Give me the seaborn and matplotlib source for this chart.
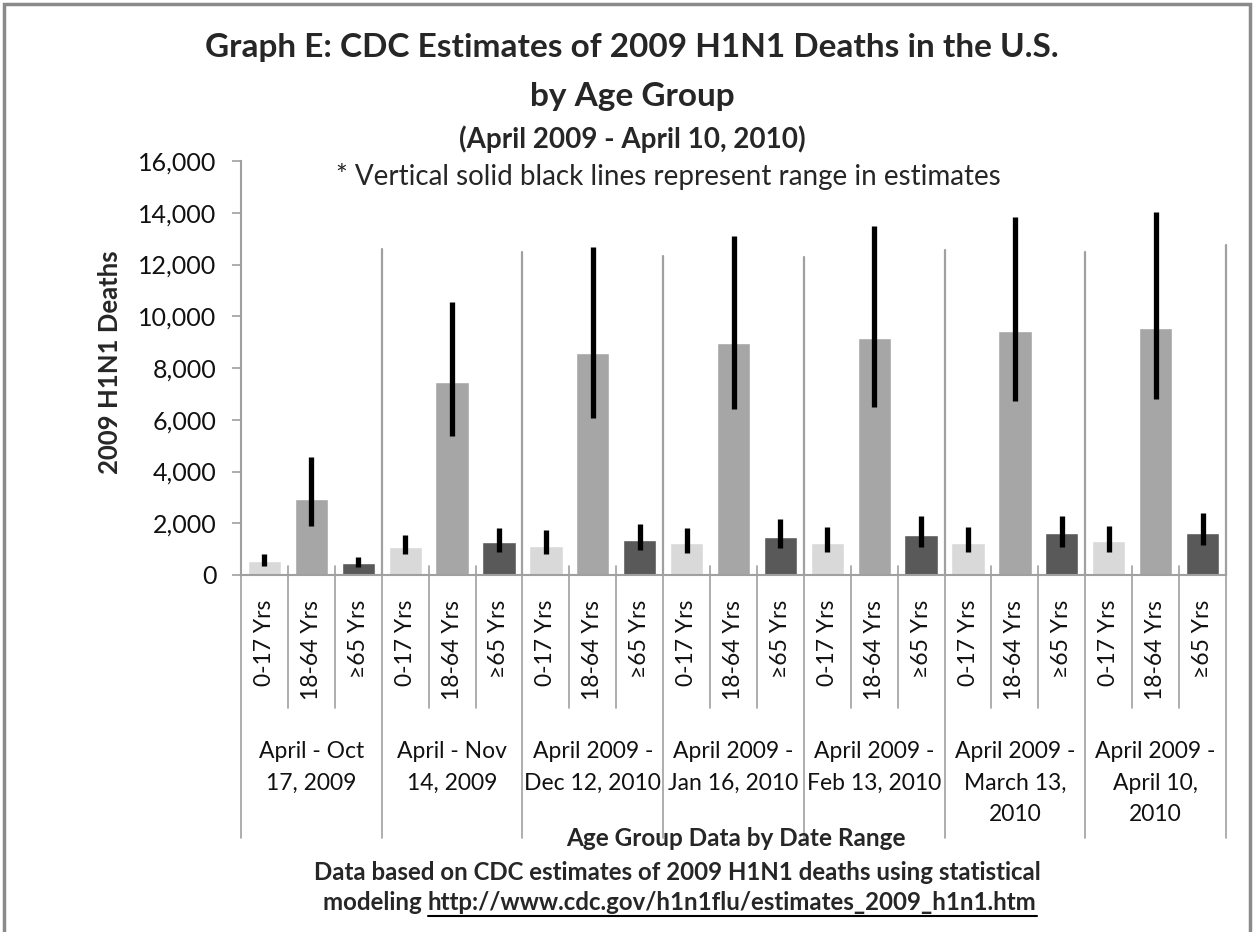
import matplotlib.pyplot as plt
import matplotlib.patches as mpatches
import pandas as pd
import seaborn as sns

periods = [
    "April - Oct\n17, 2009",
    "April - Nov\n14, 2009",
    "April 2009 -\nDec 12, 2010",
    "April 2009 -\nJan 16, 2010",
    "April 2009 -\nFeb 13, 2010",
    "April 2009 -\nMarch 13,\n2010",
    "April 2009 -\nApril 10,\n2010",
]
ages = ["0-17 Yrs", "18-64 Yrs", "≥65 Yrs"]

deaths_0_17 = [540, 1090, 1130, 1250, 1250, 1250, 1310]
low_0_17 = [330, 810, 810, 860, 900, 900, 900]
high_0_17 = [800, 1540, 1740, 1800, 1840, 1840, 1890]

deaths_18_64 = [2930, 7440, 8580, 8970, 9160, 9420, 9560]
low_18_64 = [1900, 5370, 6050, 6400, 6500, 6720, 6790]
high_18_64 = [4570, 10550, 12670, 13120, 13470, 13830, 14020]

deaths_65 = [450, 1290, 1350, 1480, 1540, 1610, 1610]
low_65 = [320, 900, 970, 1050, 1090, 1090, 1160]
high_65 = [710, 1800, 1990, 2170, 2290, 2290, 2380]

# heights of the grey separators between date ranges (left edge .. right edge)
separator_tops = [0, 12580, 12480, 12330, 12290, 12550, 12480, 12770]

colors = ["#d9d9d9", "#a6a6a6", "#595959"]
GREY = "#a0a0a0"

sns.set_theme(style="white")
plt.rcParams["font.family"] = ["Lato", "DejaVu Sans"]

rows = []
for age, vals, lo, hi in zip(ages,
                             [deaths_0_17, deaths_18_64, deaths_65],
                             [low_0_17, low_18_64, low_65],
                             [high_0_17, high_18_64, high_65]):
    for p, v, l, h in zip(periods, vals, lo, hi):
        rows.append({"period": p, "age": age, "deaths": v, "low": l, "high": h})
df = pd.DataFrame(rows)

W, H = 1253, 932
fig = plt.figure(figsize=(W / 100, H / 100), dpi=100)
AX_L, AX_R, AX_T, AX_B = 241, 1226, 161, 575
ax = fig.add_axes([AX_L / W, 1 - AX_B / H, (AX_R - AX_L) / W, (AX_B - AX_T) / H])


def fx(x):
    return x / W


def fy(y):
    return 1 - y / H


def ay(y):
    # pixel row -> axes fraction
    return (AX_B - y) / (AX_B - AX_T)


sns.barplot(data=df, x="period", y="deaths", hue="age", order=periods,
            hue_order=ages, palette=colors, saturation=1, width=1.0, gap=0.29,
            errorbar=None, legend=False, ax=ax)

ax.set_xlim(-0.5, len(periods) - 0.5)
ax.set_ylim(0, 16000)
ax.set_yticks(range(0, 16001, 2000))
ax.set_yticklabels([f"{v:,}" for v in range(0, 16001, 2000)], fontsize=18)
ax.tick_params(axis="y", length=6.5, width=1.2, color=GREY, direction="out",
               left=True, pad=11, labelcolor="#111111")
ax.set_xticks([])
ax.set_xlabel("")
ax.set_ylabel("")
for s in ["top", "right"]:
    ax.spines[s].set_visible(False)
for s in ["left", "bottom"]:
    ax.spines[s].set_color(GREY)
    ax.spines[s].set_linewidth(1.5)

# range bars and age labels under each bar
for age, cont in zip(ages, ax.containers):
    sub = df[df["age"] == age].set_index("period").loc[periods]
    xs = [b.get_x() + b.get_width() / 2 for b in cont]
    ax.vlines(xs, sub["low"], sub["high"], color="black", linewidth=3.8, zorder=5)
    for x in xs:
        ax.text(x, ay(600), age, transform=ax.get_xaxis_transform(),
                rotation=90, ha="center", va="top", fontsize=16.5, color="#111111")

# category axis lines
xt = ax.get_xaxis_transform()
for i in range(len(periods)):
    for k in (1, 2):
        xb = i - 0.5 + k / 3
        ax.plot([xb, xb], [ay(566), ay(708)], transform=xt, color=GREY,
                lw=1.2, clip_on=False)
for i, top in enumerate(separator_tops):
    xb = i - 0.5
    ax.plot([xb, xb], [ay(838), ay(AX_B)], transform=xt, color=GREY,
            lw=1.2, clip_on=False)
    if top > 0:
        ax.plot([xb, xb], [0, top], color=GREY, lw=1.6, clip_on=False)

for i, p in enumerate(periods):
    ax.text(i, ay(741), p, transform=xt, ha="center", va="top", fontsize=16.5,
            linespacing=1.62, color="#111111")

# titles and notes
fig.text(fx(632), fy(48), "Graph E: CDC Estimates of 2009 H1N1 Deaths in the U.S.",
         ha="center", va="center", fontsize=24, fontweight="bold")
fig.text(fx(632), fy(97), "by Age Group", ha="center", va="center",
         fontsize=24, fontweight="bold")
fig.text(fx(632), fy(139), "(April 2009 - April 10, 2010)", ha="center",
         va="center", fontsize=20, fontweight="bold")
fig.text(fx(668), fy(177), "* Vertical solid black lines represent range in estimates",
         ha="center", va="center", fontsize=20)
fig.text(fx(110), fy(362), "2009 H1N1 Deaths", rotation=90, ha="center",
         va="center", fontsize=18.5, fontweight="bold")
fig.text(fx(736), fy(838), "Age Group Data by Date Range", ha="center",
         va="center", fontsize=17.5, fontweight="bold")
fig.text(fx(677), fy(872), "Data based on CDC estimates of 2009 H1N1 deaths using statistical",
         ha="center", va="center", fontsize=17.3, fontweight="bold")

# last line with underlined link
t1 = fig.text(0, fy(903), "modeling ", ha="left", va="center", fontsize=17.3,
              fontweight="bold")
t2 = fig.text(0, fy(903), "http://www.cdc.gov/h1n1flu/estimates_2009_h1n1.htm",
              ha="left", va="center", fontsize=17.3, fontweight="bold")
fig.canvas.draw()
r = fig.canvas.get_renderer()
w1 = t1.get_window_extent(r).width
w2 = t2.get_window_extent(r).width
x0 = 680 - (w1 + w2) / 2
t1.set_x(fx(x0))
t2.set_x(fx(x0 + w1))
fig.add_artist(plt.Line2D([fx(x0 + w1), fx(x0 + w1 + w2)], [fy(916), fy(916)],
                          color="black", lw=1.5))

# outer frame
fig.add_artist(mpatches.Rectangle((fx(4), fy(950)), fx(1246), fy(4) - fy(950),
                                  fill=False, edgecolor="#8a8a8a", lw=2.5))

fig.savefig("out.png", dpi=100)
